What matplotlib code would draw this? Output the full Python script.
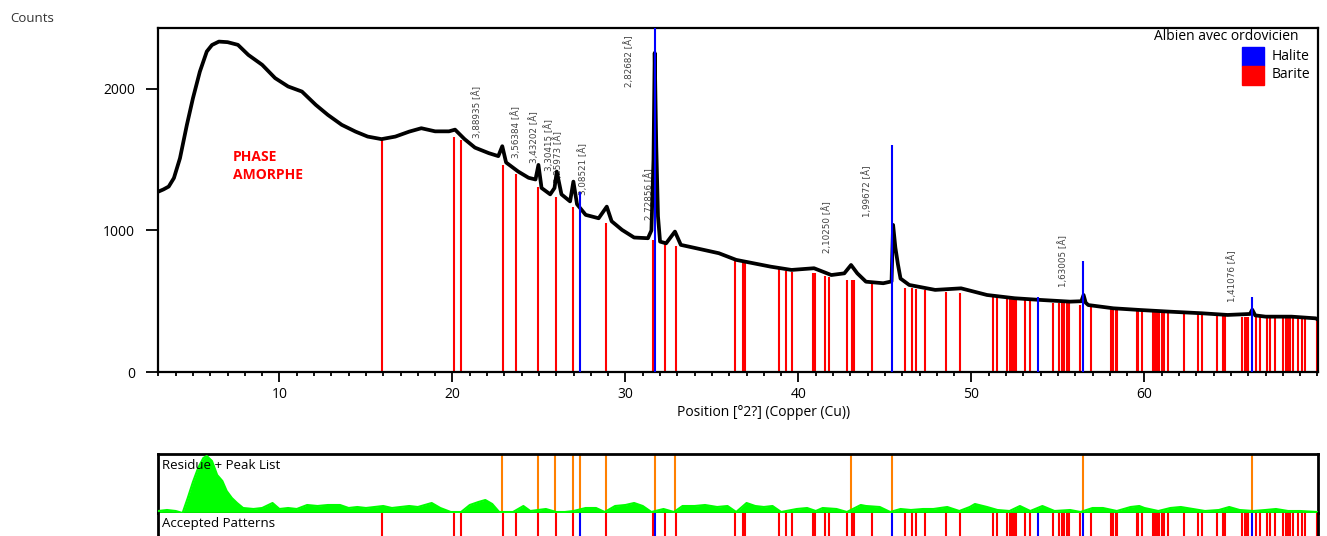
import matplotlib
matplotlib.use('Agg')
import matplotlib.pyplot as plt
from matplotlib.patches import Rectangle
from matplotlib.ticker import MultipleLocator

plt.rcParams['font.family'] = ['Open Sans', 'DejaVu Sans']

two_theta = [3.0, 3.3, 3.6, 3.9, 4.25, 4.65, 5.0, 5.4, 5.8, 6.1, 6.5, 7.0, 7.6, 8.2, 9.0,
             9.75, 10.5, 11.3, 12.1, 12.8, 13.6, 14.4, 15.1, 15.9, 16.7, 17.5, 18.2, 19.0,
             19.8, 20.15, 20.7, 21.3, 22.1, 22.65, 22.88, 23.1, 23.8, 24.4, 24.8, 24.97,
             25.15, 25.65, 25.9, 26.03, 26.3, 26.8, 26.99, 27.2, 27.7, 28.45, 28.92, 29.2,
             29.8, 30.5, 31.3, 31.5, 31.62, 31.69, 31.78, 31.88, 32.0, 32.35, 32.86, 33.2,
             34.1, 35.4, 36.4, 37.4, 38.4, 39.6, 40.9, 41.9, 42.65, 43.04, 43.4, 43.9, 44.9,
             45.38, 45.47, 45.6, 45.75, 45.9, 46.4, 47.9, 49.4, 50.9, 52.5, 54.0, 55.7, 56.35,
             56.48, 56.6, 56.75, 58.2, 59.75, 61.5, 63.3, 64.8, 66.1, 66.23, 66.4, 67.0, 68.5,
             69.9, 70.03]
counts = [1274, 1290, 1310, 1370, 1510, 1746, 1934, 2122, 2264, 2310, 2334, 2330, 2311, 2240, 2170,
          2076, 2017, 1981, 1887, 1816, 1746, 1698, 1663, 1645, 1663, 1698, 1722, 1700,
          1700, 1712, 1645, 1585, 1546, 1525, 1595, 1480, 1416, 1372, 1360, 1463,
          1300, 1255, 1300, 1416, 1255, 1205, 1345, 1185, 1110, 1086, 1168, 1065,
          1004, 950, 945, 1000, 1500, 2254, 1600, 1100, 921, 909, 992, 898,
          874, 839, 792, 768, 744, 721, 733, 685, 697, 756, 697, 638, 627,
          640, 1039, 880, 760, 660, 615, 580, 591, 544, 521, 509, 497, 500,
          544, 490, 473, 450, 438, 426, 415, 403, 410, 440, 400, 391, 391,
          379, 370]

# Barite reference sticks
barite_pos = [15.94, 20.07, 20.52, 22.91, 23.68, 24.96, 26.0, 26.98, 28.88, 31.62, 32.28, 32.9,
              36.32, 36.8, 36.93, 38.89, 39.26, 39.64, 40.85, 40.95, 41.52, 41.78, 42.78,
              43.11, 43.23, 44.24, 46.17, 46.55, 46.8, 47.31, 48.51, 49.34, 51.25, 51.5,
              52.08, 52.21, 52.33, 52.46, 52.58, 53.1, 53.39, 54.7, 55.08, 55.22, 55.35,
              55.51, 55.64, 56.25, 56.9, 58.05, 58.2, 58.34, 58.43, 59.55, 59.65, 59.84,
              60.52, 60.61, 60.71, 60.86, 61.0, 61.13, 61.35, 62.31, 63.08, 63.31, 64.18,
              64.56, 64.66, 65.62, 65.81, 65.91, 66.01, 66.45, 66.68, 67.07, 67.26, 67.55,
              68.03, 68.17, 68.28, 68.42, 68.57, 68.9, 69.09, 69.28, 69.96]
barite_h = [1655, 1660, 1640, 1460, 1400, 1305, 1235, 1164, 1055, 933, 912, 890,
            792, 770, 770, 726, 716, 708, 697, 697, 678, 673, 650,
            650, 650, 627, 591, 591, 585, 580, 568, 556, 532, 532,
            521, 521, 521, 521, 521, 509, 509, 490, 486, 486, 486,
            486, 486, 473, 466, 454, 454, 454, 454, 443, 443, 443,
            433, 433, 433, 433, 433, 433, 426, 415, 410, 410, 403,
            403, 403, 391, 391, 391, 391, 391, 391, 384, 384, 384,
            384, 384, 384, 384, 384, 384, 384, 384, 372]

# Halite reference sticks
halite_pos = [27.35, 31.68, 45.42, 53.85, 56.45, 66.2]
halite_h = [1274, 2600, 1600, 532, 784, 528]

# peak list (orange) and residue
peak_list = [22.85, 24.93, 25.95, 26.97, 27.35, 28.88, 31.68, 32.85, 43.05, 45.42, 56.45, 66.2]
res_x = [3.0, 3.5, 4.0, 4.4, 4.7, 5.0, 5.3, 5.6, 5.8, 6.1, 6.4, 6.7, 6.95, 7.25, 7.55, 7.9,
         8.5, 9.0, 9.6, 10.0, 10.5, 11.0, 11.6, 12.2, 12.8, 13.5, 14.0, 14.5, 15.0, 15.5,
         16.0, 16.5, 17.0, 17.5, 18.0, 18.8, 19.3, 19.9, 20.5, 21.0, 21.5, 21.9, 22.3, 22.7,
         23.5, 24.1, 24.5, 25.4, 26.0, 26.5, 27.0, 27.7, 28.3, 28.8, 29.4, 30.0, 30.5, 31.0,
         31.5, 32.2, 32.8, 33.3, 34.0, 34.6, 35.3, 35.9, 36.4, 37.0, 37.5, 38.0, 38.5, 39.0,
         39.9, 40.5, 41.0, 41.4, 42.2, 42.8, 43.6, 43.9, 44.7, 45.3, 45.9, 46.5, 47.2, 47.8,
         48.6, 49.3, 49.9, 50.2, 50.9, 51.5, 52.2, 52.8, 53.4, 54.1, 54.8, 55.7, 56.3, 57.0,
         57.6, 58.4, 59.2, 59.7, 60.0, 60.8, 61.5, 62.1, 62.8, 63.5, 64.3, 64.9, 65.5, 66.3,
         67.0, 67.6, 68.3, 69.0, 70.0]
res_y = [2, 3, 2, 0, 15, 31, 45, 55, 57, 52, 38, 32, 22, 15, 10, 5,
         4, 5, 10, 4, 5, 4, 8, 7, 8, 8, 5, 6, 5, 6,
         7, 5, 6, 7, 6, 10, 5, 1, 1, 8, 11, 13, 9, 1,
         1, 7, 2, 4, 1, 1, 2, 5, 5, 1, 7, 8, 10, 7,
         1, 4, 1, 7, 7, 8, 6, 7, 1, 10, 7, 6, 7, 1,
         4, 5, 2, 5, 4, 1, 8, 7, 6, 1, 4, 3, 4, 4,
         6, 2, 6, 9, 6, 3, 2, 7, 2, 7, 2, 3, 1, 5,
         5, 2, 6, 7, 5, 2, 5, 6, 4, 2, 3, 6, 3, 2,
         3, 4, 2, 2, 1]

# d-spacing annotations: (2theta, counts at text bottom, label)
d_pos = [21.40, 23.68, 24.73, 25.60, 26.08, 27.57, 30.23, 31.38, 41.64, 43.98, 55.28, 65.08]
d_base = [1654, 1512, 1477, 1420, 1336, 1251, 2016, 1074, 841, 1097, 603, 497]
d_text = ['3,88935 [Å]', '3,56384 [Å]', '3,43202 [Å]', '3,30415 [Å]', '3,25973 [Å]',
          '3,08521 [Å]', '2,82682 [Å]', '2,72856 [Å]', '2,10250 [Å]', '1,99672 [Å]',
          '1,63005 [Å]', '1,41076 [Å]']

W, H = 1327, 536
XLIM = (2.98, 70.03)


def box(l, t, r, b):
    return [l / W, 1 - b / H, (r - l) / W, (b - t) / H]


fig = plt.figure(figsize=(W / 100, H / 100), dpi=100)

# main pattern
ax = fig.add_axes(box(158, 28, 1318, 372))
ax.vlines(barite_pos, 0, barite_h, color='#ff0000', lw=1.5, zorder=2)
ax.plot(two_theta, counts, color='black', lw=2.7, zorder=3)
ax.vlines(halite_pos, 0, halite_h, color='#0000ff', lw=1.5, zorder=4)
ax.set_xlim(*XLIM)
ax.set_ylim(0, 2430)
ax.set_xticks([10, 20, 30, 40, 50, 60])
ax.xaxis.set_minor_locator(MultipleLocator(1))
ax.set_yticks([0, 1000, 2000])
ax.tick_params(axis='x', which='major', direction='out', length=7, width=1.3, labelsize=10, pad=4)
ax.tick_params(axis='x', which='minor', direction='out', length=3, width=1.3)
ax.tick_params(axis='y', direction='out', length=8.5, width=1.3, labelsize=10, pad=8)
for s in ax.spines.values():
    s.set_linewidth(1.6)
ax.set_xlabel('Position [°2?] (Copper (Cu))', fontsize=10)
ax.xaxis.set_label_coords(0.522, -0.097)

for x, y, t in zip(d_pos, d_base, d_text):
    ax.text(x, y, t, rotation=90, ha='center', va='bottom', fontsize=6.3, color='#404040',
            family=['Liberation Sans Narrow', 'DejaVu Sans'], zorder=1)

ax.text(7.3, 1455, 'PHASE\nAMORPHE', color='red', fontweight='bold', fontsize=10,
        ha='left', va='center', linespacing=1.3)

fig.text(10 / W, 1 - 18 / H, 'Counts', fontsize=9.5, ha='left', va='center', color='#333333')

# legend
fig.text(1298 / W, 1 - 37 / H, 'Albien avec ordovicien', fontsize=10, ha='right', va='center')
fig.add_artist(Rectangle((1241.7 / W, 1 - 66 / H), 22.6 / W, 19.3 / H,
                         transform=fig.transFigure, color='#0000ff'))
fig.add_artist(Rectangle((1241.7 / W, 1 - 85 / H), 22.6 / W, 19.3 / H,
                         transform=fig.transFigure, color='#ff0000'))
fig.text(1272 / W, 1 - 56 / H, 'Halite', fontsize=10, ha='left', va='center')
fig.text(1272 / W, 1 - 75 / H, 'Barite', fontsize=10, ha='left', va='center')

# residue + peak list
axr = fig.add_axes(box(158, 454, 1318, 513))
axr.set_xlim(*XLIM)
axr.set_ylim(0, 59)
axr.vlines(peak_list, 0, 59, color='#ff8000', lw=1.5, zorder=1)
axr.fill_between(res_x, 0, res_y, color='#00ff00', lw=0, zorder=2)
axr.plot(res_x, res_y, color='#00ff00', lw=1.5, zorder=3)
axr.axhline(0, color='#00ff00', lw=2, zorder=3)
axr.set_xticks([])
axr.set_yticks([])
for s in axr.spines.values():
    s.set_linewidth(2)
axr.text(4 / 1160, 0.797, 'Residue + Peak List', transform=axr.transAxes,
         fontsize=9.5, ha='left', va='center')

# accepted patterns
axa = fig.add_axes(box(158, 513, 1318, 600))
axa.set_xlim(*XLIM)
axa.set_ylim(0, 1)
axa.vlines(barite_pos, 0, 1, color='#ff0000', lw=1.5)
axa.vlines(halite_pos, 0, 1, color='#0000ff', lw=1.5)
axa.set_xticks([])
axa.set_yticks([])
axa.spines['top'].set_visible(False)
for s in axa.spines.values():
    s.set_linewidth(2)
axa.text(4 / 1160, 1 - 10 / 87, 'Accepted Patterns', transform=axa.transAxes,
         fontsize=9.5, ha='left', va='center')

fig.savefig('out.png', dpi=100)
